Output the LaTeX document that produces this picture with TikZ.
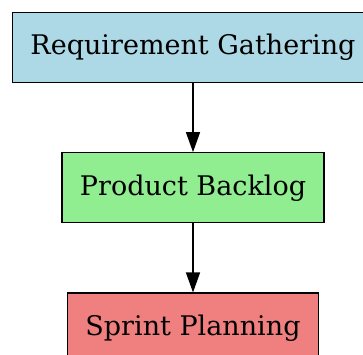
\documentclass[tikz,border=0pt]{standalone}
\usepackage{fontspec}
\setmainfont{DejaVu Serif}
\usetikzlibrary{arrows.meta,positioning}

\definecolor{gatherblue}{HTML}{ADD8E6}
\definecolor{backloggreen}{HTML}{90EE90}
\definecolor{sprintred}{HTML}{F08080}

\begin{document}
\begin{tikzpicture}[
    x=1pt, y=1pt,
    node distance=69pt,
    every node/.style={font=\fontsize{27}{32}\selectfont, align=center},
    box/.style={draw, line width=1.3pt, minimum height=70pt, inner xsep=18pt},
    line/.style={-{Triangle[length=20pt,width=14pt]}, line width=1.3pt}
]
\useasboundingbox (0,0) rectangle (363,-354);
\node[box, fill=gatherblue] (gather) at (193,-47.5) {Requirement Gathering};
\node[box, fill=backloggreen, below=of gather] (backlog) {Product Backlog};
\node[box, fill=sprintred, below=of backlog] (sprint) {Sprint Planning};

\draw[line] (gather) -- (backlog);
\draw[line] (backlog) -- (sprint);
\end{tikzpicture}
\end{document}
